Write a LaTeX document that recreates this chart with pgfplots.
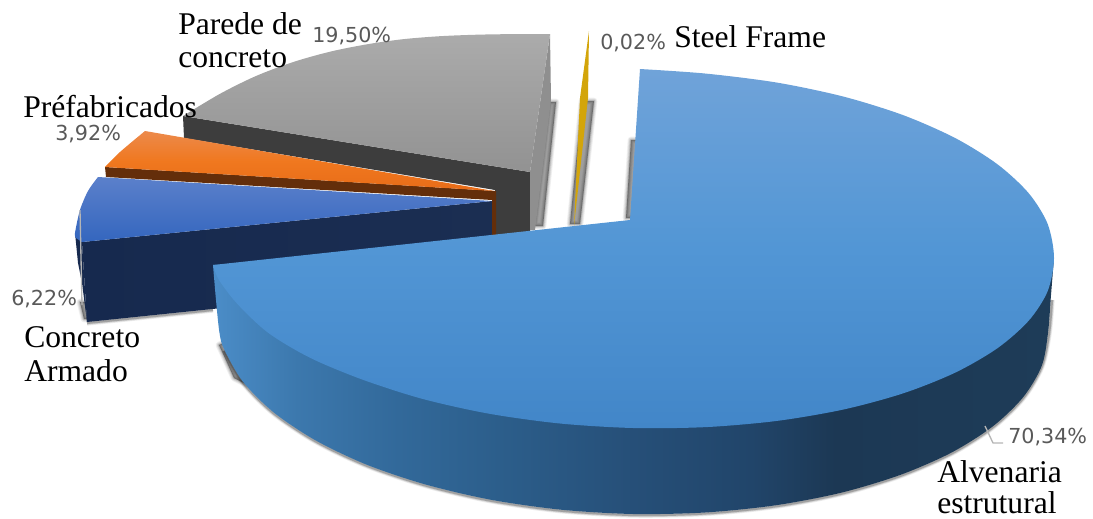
\documentclass[border=0pt]{standalone}
\usepackage{fontspec}
\setmainfont{Liberation Serif}
\newfontfamily\pctfont{DejaVu Sans}
\usepackage{pgfplots}
\pgfplotsset{compat=1.18}

% Top faces
\definecolor{bigA}{HTML}{70A3D9}\definecolor{bigB}{HTML}{5296D5}\definecolor{bigC}{HTML}{4286C8}
\definecolor{grayA}{HTML}{ABABAB}\definecolor{grayB}{HTML}{929292}
\definecolor{orangeA}{HTML}{EC8A4C}\definecolor{orangeB}{HTML}{F0781F}\definecolor{orangeC}{HTML}{E86C18}
\definecolor{blueA}{HTML}{5B80CB}\definecolor{blueB}{HTML}{3466BE}
% Side walls
\definecolor{wallA}{HTML}{4B8DC8}\definecolor{wallB}{HTML}{3C78AD}\definecolor{wallC}{HTML}{32699A}
\definecolor{wallD}{HTML}{2C5E8B}\definecolor{wallE}{HTML}{264F78}\definecolor{wallF}{HTML}{21456A}
\definecolor{wallG}{HTML}{1C3854}\definecolor{wallH}{HTML}{1E3C58}
\definecolor{navyA}{HTML}{16294E}\definecolor{navyB}{HTML}{1B2E52}
\definecolor{brownwall}{HTML}{642E0A}
\definecolor{graywall}{HTML}{3D3D3D}
\definecolor{graylight}{HTML}{8F8F8F}
\definecolor{gold}{HTML}{D3A50A}
\definecolor{pcttext}{HTML}{595959}
\definecolor{leader}{HTML}{B5B5B5}

\pgfdeclareverticalshading{bigtop}{100bp}{color(0bp)=(bigC);color(25bp)=(bigC);color(50bp)=(bigB);color(75bp)=(bigA);color(100bp)=(bigA)}
\pgfdeclareverticalshading{graytop}{100bp}{color(0bp)=(grayB);color(25bp)=(grayB);color(75bp)=(grayA);color(100bp)=(grayA)}
\pgfdeclareverticalshading{orangetop}{100bp}{color(0bp)=(orangeC);color(25bp)=(orangeC);color(50bp)=(orangeB);color(75bp)=(orangeA);color(100bp)=(orangeA)}
\pgfdeclareverticalshading{bluetop}{100bp}{color(0bp)=(blueB);color(25bp)=(blueB);color(75bp)=(blueA);color(100bp)=(blueA)}
\pgfdeclarehorizontalshading{bigwall}{100bp}{color(0bp)=(wallA);color(25bp)=(wallA);color(30bp)=(wallB);color(36bp)=(wallC);color(42bp)=(wallD);color(50bp)=(wallE);color(57bp)=(wallF);color(62bp)=(wallG);color(75bp)=(wallH);color(100bp)=(wallH)}
\pgfdeclarehorizontalshading{navywall}{100bp}{color(0bp)=(navyA);color(25bp)=(navyA);color(75bp)=(navyB);color(100bp)=(navyB)}

% Soft drop shadow: a filled polygon with stacked translucent outlines
\newcommand{\softshadow}[1]{%
  \addplot[draw=black,opacity=.06,line width=5pt,line join=round] coordinates {#1} -- cycle;
  \addplot[draw=black,opacity=.08,line width=3.6pt,line join=round] coordinates {#1} -- cycle;
  \addplot[draw=black,opacity=.10,line width=2.2pt,line join=round] coordinates {#1} -- cycle;
  \addplot[draw=black,opacity=.12,line width=1pt,line join=round] coordinates {#1} -- cycle;
  \addplot[fill=black,draw=none,opacity=.38] coordinates {#1} -- cycle;
}
\newcommand{\softedge}[1]{%
  \addplot[draw=black,opacity=.08,line width=4pt,smooth] coordinates {#1};
  \addplot[draw=black,opacity=.12,line width=2.8pt,smooth] coordinates {#1};
  \addplot[draw=black,opacity=.22,line width=1.6pt,smooth] coordinates {#1};
}
\newcommand{\lab}[3]{\node[anchor=base west,inner sep=0pt,font=\fontsize{23.7}{24}\selectfont,text=black] at (axis cs:#1,#2) {#3};}
\newcommand{\pct}[3]{\node[anchor=base west,inner sep=0pt,font=\pctfont\fontsize{15.5}{16}\selectfont,text=pcttext] at (axis cs:#1,#2) {#3};}

\begin{document}
\begin{tikzpicture}
\begin{axis}[
  scale only axis, width=819.75pt, height=388.5pt,
  xmin=0, xmax=1093, ymin=0, ymax=518, y dir=reverse,
  hide axis, clip=false]

% Page extent
\path (rel axis cs:0,0) rectangle (rel axis cs:1,1);

% Shadows cast behind the exploded wedges
\softshadow{(549,102) (556,102) (543,226) (534,226)}
\softshadow{(582,101) (594,101) (580,224) (570,224)}
\softshadow{(631,140) (640,140) (634,218) (626,218)}
\softshadow{(80,302) (88,302) (90,319) (84,319)}
\softshadow{(219,345) (226,342) (248,385) (234,378)}
\softedge{(87,323) (213,310)}
\softedge{(224.3,350.6) (243,382.8) (273.6,413.3) (315.1,441.1) (366.2,465.5) (425.5,485.5) (491,500.8) (561,510.7) (633,515) (705,513.5) (774.9,506.4) (840.5,493.9) (899.8,476.1) (950.9,453.9) (992.4,427.7) (1023,398.4) (1041.7,367) (1049,334) (1052,300)}

% Parede de concreto
\addplot[fill=graywall,draw=none] coordinates {(183,116) (530,172) (530,232) (495,235) (495,190) (184,138)} -- cycle;
\addplot[fill=graylight,draw=none] coordinates {(550,34) (551,100) (535,230) (530,230) (530,172)} -- cycle;
\addplot[shade,shading=graytop,draw=none,smooth] coordinates {(183,116) (220,93.8) (256,76) (293,62.1) (330,51.7) (367,44.3) (403,39.2) (440,36.2) (477,34.7) (513,34.1) (550,34)} -- (axis cs:530,172) -- cycle;

% Steel Frame
\addplot[fill=gold,draw=none] coordinates {(589,31) (588,98) (574,226) (580,98)} -- cycle;

% Préfabricados
\addplot[fill=brownwall,draw=none] coordinates {(105,167) (496,191) (496,235) (492,235) (492,200) (106,177)} -- cycle;
\addplot[shade,shading=orangetop,draw=none,smooth] coordinates {(105,167) (120,152) (145,131)} -- (axis cs:494,191) -- cycle;

% Concreto Armado
\addplot[shade,shading=navywall,draw=none] coordinates {(82,242) (492,201) (492,280) (87,322)} -- cycle;
\addplot[fill=navyA,draw=none] coordinates {(75,233) (82,242) (87,322) (82,283) (78,263)} -- cycle;
\addplot[shade,shading=bluetop,draw=none,smooth] coordinates {(98,177) (88,191) (80,210) (75,233) (76,238)} -- (axis cs:82,242) -- (axis cs:492,201) -- cycle;
\addplot[draw=leader,line width=1pt] coordinates {(80,210) (82,305)};

% Alvenaria estrutural
\addplot[shade,shading=bigwall,draw=none,smooth] coordinates {(1054,258) (1051,295) (1048,333) (1041.7,366) (1023,397.4) (992.4,426.7) (950.9,452.9) (899.8,475.1) (840.5,492.9) (774.9,505.4) (705,512.5) (633,514) (561,509.7) (491,499.8) (425.5,484.5) (366.2,464.5) (315.1,440.1) (273.6,412.3) (243,381.8) (224.3,349.6) (219.5,333) (216,300) (213,265)} -- cycle;
\addplot[shade,shading=bigtop,draw=none,smooth] coordinates {(640,69) (706,73.6) (777,82.6) (843.5,96.6) (903.6,115.3) (955.5,138.2) (997.6,164.4) (1028.6,193.1) (1047.6,223.8) (1054,258) (1047.6,291.3) (1028.6,320.8) (997.6,348.1) (955.5,372.5) (903.6,393.2) (843.5,409.5) (777,420.9) (706.1,427.1) (633,428) (559.9,423.5) (489,413.7) (422.5,398.9) (362.4,379.6) (310.5,358) (268.4,333) (237.4,304) (219,280) (213,265)} -- (axis cs:630,220) -- cycle;

% Leader line of the largest wedge
\addplot[draw=leader,line width=1pt] coordinates {(985,426) (993,443) (1003,443)};

% Category names
\lab{178}{34}{Parede de}
\lab{178}{67}{concreto}
\lab{23}{117}{Préfabricados}
\lab{674}{47}{Steel Frame}
\lab{24}{347}{Concreto}
\lab{24}{381}{Armado}
\lab{937}{482}{Alvenaria}
\lab{937}{513}{estrutural}

% Shares
\pct{312}{42}{19,50\%}
\pct{600}{50}{0,02\%}
\pct{55}{140}{3,92\%}
\pct{11}{305}{6,22\%}
\pct{1008}{443}{70,34\%}
\end{axis}
\end{tikzpicture}
\end{document}
